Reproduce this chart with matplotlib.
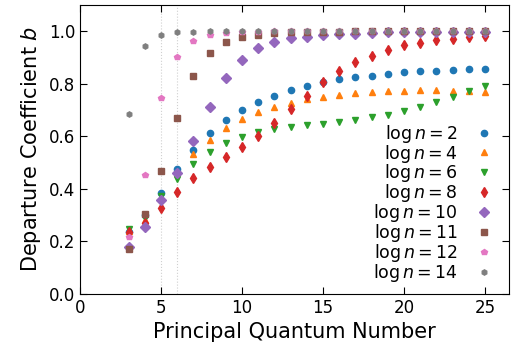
import matplotlib
matplotlib.use("Agg")
import matplotlib.pyplot as plt
import numpy as np

n_levels = list(range(3, 26))

b_log2 = [0.237, 0.300, 0.383, 0.474, 0.548, 0.611, 0.660, 0.698, 0.730, 0.754, 0.775,
          0.791, 0.805, 0.816, 0.824, 0.830, 0.837, 0.843, 0.847, 0.850, 0.853, 0.856, 0.857]
b_log4 = [0.240, 0.281, 0.370, 0.459, 0.532, 0.586, 0.631, 0.665, 0.691, 0.712, 0.727,
          0.740, 0.750, 0.758, 0.763, 0.768, 0.772, 0.773, 0.775, 0.775, 0.774, 0.771, 0.767]
b_log6 = [0.246, 0.288, 0.373, 0.437, 0.494, 0.540, 0.573, 0.598, 0.616, 0.627, 0.635,
          0.641, 0.646, 0.653, 0.663, 0.672, 0.681, 0.696, 0.712, 0.730, 0.750, 0.771, 0.791]
b_log8 = [0.237, 0.268, 0.328, 0.388, 0.440, 0.484, 0.522, 0.560, 0.602, 0.649, 0.702,
          0.753, 0.805, 0.847, 0.881, 0.907, 0.928, 0.946, 0.956, 0.966, 0.972, 0.976, 0.981]
b_log10 = [0.177, 0.253, 0.356, 0.461, 0.580, 0.712, 0.820, 0.892, 0.934, 0.959, 0.973,
           0.978, 0.985, 0.989, 0.991, 0.993, 0.995, 0.996, 0.996, 0.997, 0.997, 0.997, 0.997]
b_log11 = [0.171, 0.303, 0.466, 0.668, 0.828, 0.915, 0.957, 0.976, 0.987, 0.994, 0.996,
           0.997, 0.998, 0.998, 0.999, 0.999, 0.999, 0.999, 0.999, 0.999, 0.999, 0.999, 0.999]
b_log12 = [0.218, 0.452, 0.744, 0.902, 0.962, 0.985, 0.994, 0.997, 0.998, 0.999, 0.999,
           1.000, 1.000, 1.000, 1.000, 1.000, 1.000, 1.000, 1.000, 1.000, 1.000, 1.000, 1.000]
b_log14 = [0.684, 0.943, 0.985, 0.996, 0.998, 0.999, 1.000, 1.000, 1.000, 1.000, 1.000,
           1.000, 1.000, 1.000, 1.000, 1.000, 1.000, 1.000, 1.000, 1.000, 1.000, 1.000, 1.000]

series_labels = ["2", "4", "6", "8", "10", "11", "12", "14"]
series_values = [b_log2, b_log4, b_log6, b_log8, b_log10, b_log11, b_log12, b_log14]
markers = ["o", "^", "v", "d", "D", "s", "p", "h"]
sizes = [4.5, 4.5, 4.5, 5.0, 5.0, 4.5, 4.3, 3.8]
colors = ["#1f77b4", "#ff7f0e", "#2ca02c", "#d62728", "#9467bd", "#8c564b", "#e377c2", "#7f7f7f"]

fig = plt.figure(figsize=(5.17, 3.49), dpi=100)
ax = fig.add_axes([0.155, 0.158, 0.830, 0.828])

for x in (5, 6):
    ax.axvline(x, color="#d0d0d0", lw=0.8, ls=":", zorder=0)

for lab, vals, m, s, c in zip(series_labels, series_values, markers, sizes, colors):
    ax.plot(n_levels, vals, ls="none", marker=m, ms=s, color=c,
            label=r"$\log n = %s$" % lab)

ax.set_xlim(0, 26.5)
ax.set_ylim(0, 1.1)
ax.set_xticks([0, 5, 10, 15, 20, 25])
ax.set_yticks([0.0, 0.2, 0.4, 0.6, 0.8, 1.0])
ax.tick_params(direction="in", top=True, right=True, labelsize=12, length=5)
ax.set_xlabel("Principal Quantum Number", fontsize=15)
ax.set_ylabel("Departure Coefficient $b$", fontsize=15)

ax.legend(loc="lower right", bbox_to_anchor=(0.977, 0.010), frameon=False,
          markerfirst=False, fontsize=12.5, handlelength=1.0, handletextpad=1.0,
          labelspacing=-0.12, borderaxespad=0)

fig.savefig("out.png", dpi=100)
